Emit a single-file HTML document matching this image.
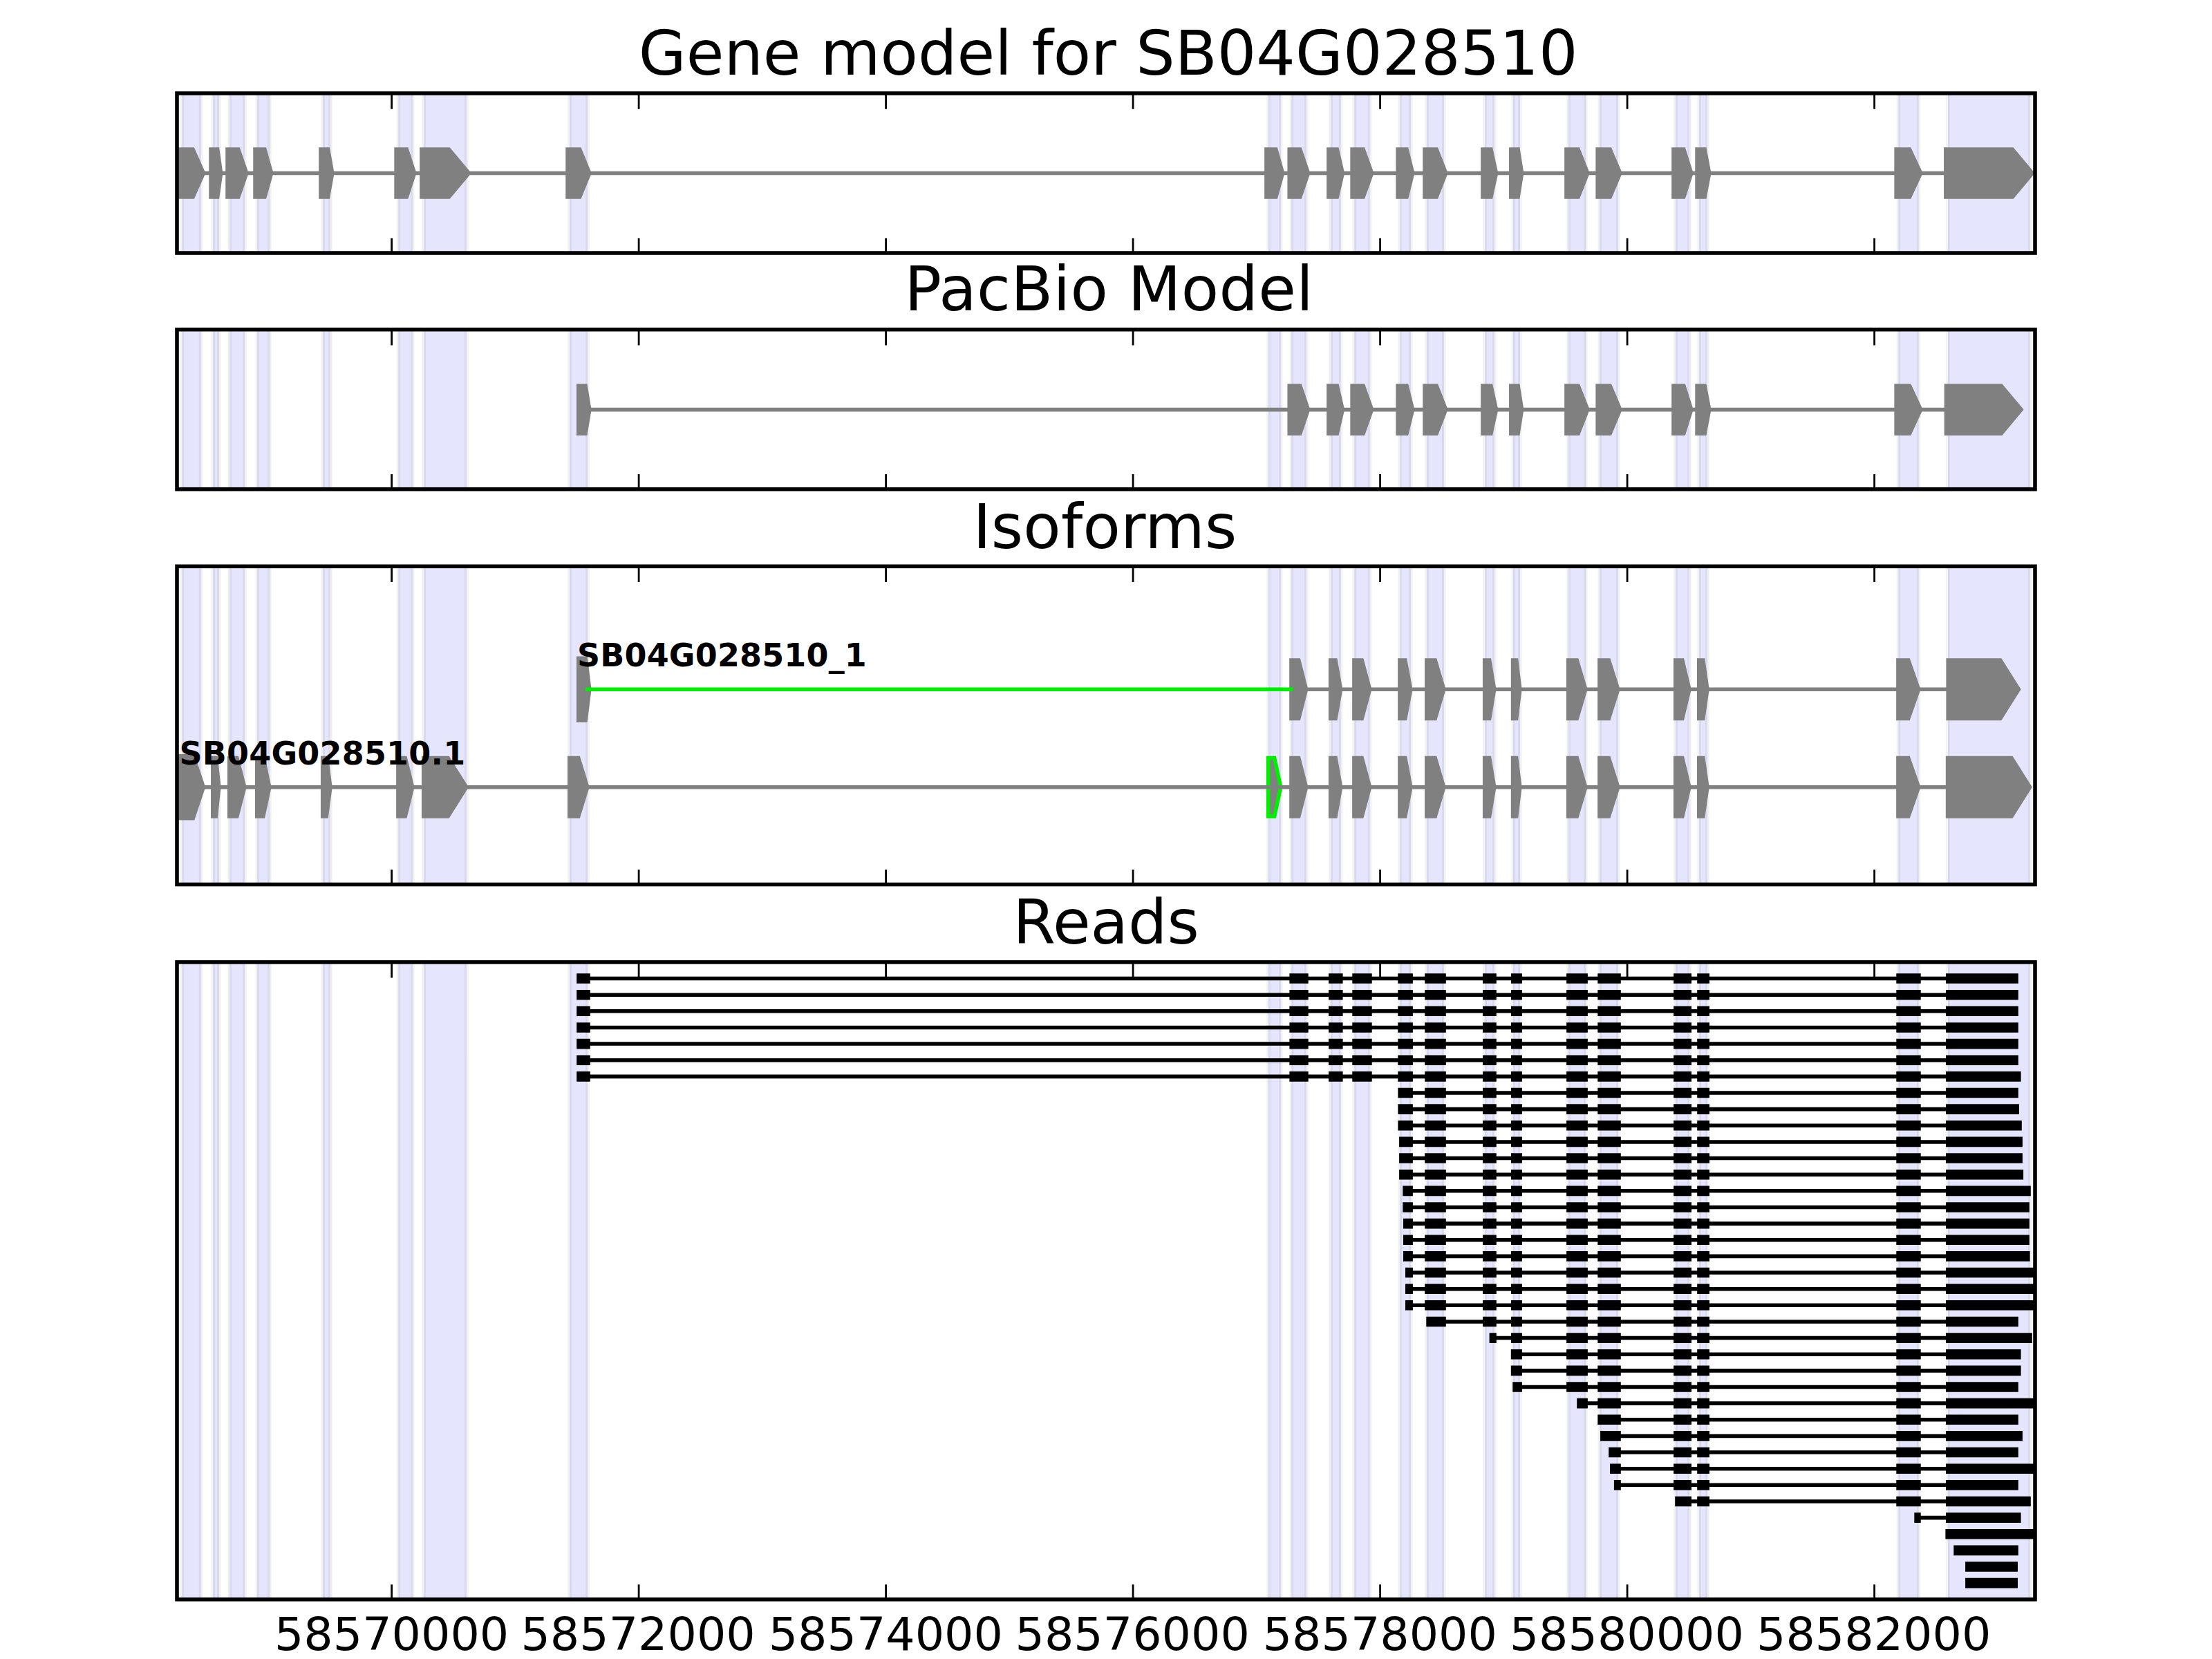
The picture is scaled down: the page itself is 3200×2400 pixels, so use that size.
<!DOCTYPE html>
<html lang="en">
<head>
<meta charset="utf-8">
<title>Gene model for SB04G028510</title>
<style>
html,body{margin:0;padding:0;background:#fff;}
body{width:3200px;height:2400px;overflow:hidden;}
svg{display:block;}
text{font-family:"DejaVu Sans","Liberation Sans",sans-serif;fill:#000;}
.ttl{font-size:88.9px;}
.tk{font-size:66.67px;}
.lbl{font-size:45.95px;font-weight:bold;}
</style>
</head>
<body>
<svg width="3200" height="2400" viewBox="0 0 3200 2400">
<rect width="3200" height="2400" fill="#fff"/>
<defs>
<clipPath id="c0"><rect x="256" y="135" width="2688" height="231"/></clipPath>
<clipPath id="c1"><rect x="256" y="476.7" width="2688" height="231"/></clipPath>
<clipPath id="c2"><rect x="256" y="819.3" width="2688" height="460.2"/></clipPath>
<clipPath id="c3"><rect x="256" y="1391.9" width="2688" height="921.9"/></clipPath>
</defs>
<g clip-path="url(#c0)">
<g>
<rect x="263.5" y="135" width="27.1" height="231" fill="#e5e5fd"/>
<rect x="308.2" y="135" width="8.7" height="231" fill="#e5e5fd"/>
<rect x="332.2" y="135" width="21.7" height="231" fill="#e5e5fd"/>
<rect x="372.2" y="135" width="17.7" height="231" fill="#e5e5fd"/>
<rect x="467.1" y="135" width="10.9" height="231" fill="#e5e5fd"/>
<rect x="576.3" y="135" width="20.5" height="231" fill="#e5e5fd"/>
<rect x="613.1" y="135" width="61.7" height="231" fill="#e5e5fd"/>
<rect x="824.2" y="135" width="25.7" height="231" fill="#e5e5fd"/>
<rect x="1835.1" y="135" width="17.7" height="231" fill="#e5e5fd"/>
<rect x="1868.4" y="135" width="21.3" height="231" fill="#e5e5fd"/>
<rect x="1925.1" y="135" width="14.5" height="231" fill="#e5e5fd"/>
<rect x="1959.3" y="135" width="22.4" height="231" fill="#e5e5fd"/>
<rect x="2025.3" y="135" width="15.6" height="231" fill="#e5e5fd"/>
<rect x="2064.2" y="135" width="24.6" height="231" fill="#e5e5fd"/>
<rect x="2148.1" y="135" width="13.7" height="231" fill="#e5e5fd"/>
<rect x="2189" y="135" width="9.9" height="231" fill="#e5e5fd"/>
<rect x="2269.1" y="135" width="24.8" height="231" fill="#e5e5fd"/>
<rect x="2314.3" y="135" width="26.6" height="231" fill="#e5e5fd"/>
<rect x="2424.1" y="135" width="19.9" height="231" fill="#e5e5fd"/>
<rect x="2458.2" y="135" width="11.8" height="231" fill="#e5e5fd"/>
<rect x="2746.3" y="135" width="29.4" height="231" fill="#e5e5fd"/>
<rect x="2818" y="135" width="118.7" height="231" fill="#e5e5fd"/>
<path d="M263.5 135V366M290.6 135V366M308.2 135V366M316.9 135V366M332.2 135V366M353.9 135V366M372.2 135V366M389.9 135V366M467.1 135V366M478 135V366M576.3 135V366M596.8 135V366M613.1 135V366M674.8 135V366M824.2 135V366M849.9 135V366M1835.1 135V366M1852.8 135V366M1868.4 135V366M1889.7 135V366M1925.1 135V366M1939.6 135V366M1959.3 135V366M1981.7 135V366M2025.3 135V366M2040.9 135V366M2064.2 135V366M2088.8 135V366M2148.1 135V366M2161.8 135V366M2189 135V366M2198.9 135V366M2269.1 135V366M2293.9 135V366M2314.3 135V366M2340.9 135V366M2424.1 135V366M2444 135V366M2458.2 135V366M2470 135V366M2746.3 135V366M2775.7 135V366M2818 135V366M2936.7 135V366" stroke="#000" stroke-opacity="0.055" stroke-width="5.56" fill="none"/>
</g>
<polygon points="263.1,218.7 277.25,218.7 291.4,250.5 277.25,282.3 263.1,282.3" fill="#808080" stroke="#808080" stroke-width="11.1" stroke-linejoin="miter" stroke-miterlimit="10"/>
<polygon points="307.8,218.7 312.3,218.7 316.8,250.5 312.3,282.3 307.8,282.3" fill="#808080" stroke="#808080" stroke-width="11.1" stroke-linejoin="miter" stroke-miterlimit="10"/>
<polygon points="331.8,218.7 342.8,218.7 353.8,250.5 342.8,282.3 331.8,282.3" fill="#808080" stroke="#808080" stroke-width="11.1" stroke-linejoin="miter" stroke-miterlimit="10"/>
<polygon points="371.8,218.7 380.8,218.7 389.8,250.5 380.8,282.3 371.8,282.3" fill="#808080" stroke="#808080" stroke-width="11.1" stroke-linejoin="miter" stroke-miterlimit="10"/>
<polygon points="466.7,218.7 472.3,218.7 477.9,250.5 472.3,282.3 466.7,282.3" fill="#808080" stroke="#808080" stroke-width="11.1" stroke-linejoin="miter" stroke-miterlimit="10"/>
<polygon points="575.9,218.7 586.3,218.7 596.7,250.5 586.3,282.3 575.9,282.3" fill="#808080" stroke="#808080" stroke-width="11.1" stroke-linejoin="miter" stroke-miterlimit="10"/>
<polygon points="612.7,218.7 648.1,218.7 674.7,250.5 648.1,282.3 612.7,282.3" fill="#808080" stroke="#808080" stroke-width="11.1" stroke-linejoin="miter" stroke-miterlimit="10"/>
<polygon points="823.8,218.7 836.8,218.7 849.8,250.5 836.8,282.3 823.8,282.3" fill="#808080" stroke="#808080" stroke-width="11.1" stroke-linejoin="miter" stroke-miterlimit="10"/>
<polygon points="1834.7,218.7 1843.7,218.7 1852.7,250.5 1843.7,282.3 1834.7,282.3" fill="#808080" stroke="#808080" stroke-width="11.1" stroke-linejoin="miter" stroke-miterlimit="10"/>
<polygon points="1868,218.7 1878.8,218.7 1889.6,250.5 1878.8,282.3 1868,282.3" fill="#808080" stroke="#808080" stroke-width="11.1" stroke-linejoin="miter" stroke-miterlimit="10"/>
<polygon points="1924.7,218.7 1932.1,218.7 1939.5,250.5 1932.1,282.3 1924.7,282.3" fill="#808080" stroke="#808080" stroke-width="11.1" stroke-linejoin="miter" stroke-miterlimit="10"/>
<polygon points="1958.9,218.7 1970.25,218.7 1981.6,250.5 1970.25,282.3 1958.9,282.3" fill="#808080" stroke="#808080" stroke-width="11.1" stroke-linejoin="miter" stroke-miterlimit="10"/>
<polygon points="2024.9,218.7 2032.85,218.7 2040.8,250.5 2032.85,282.3 2024.9,282.3" fill="#808080" stroke="#808080" stroke-width="11.1" stroke-linejoin="miter" stroke-miterlimit="10"/>
<polygon points="2063.8,218.7 2076.25,218.7 2088.7,250.5 2076.25,282.3 2063.8,282.3" fill="#808080" stroke="#808080" stroke-width="11.1" stroke-linejoin="miter" stroke-miterlimit="10"/>
<polygon points="2147.7,218.7 2154.7,218.7 2161.7,250.5 2154.7,282.3 2147.7,282.3" fill="#808080" stroke="#808080" stroke-width="11.1" stroke-linejoin="miter" stroke-miterlimit="10"/>
<polygon points="2188.6,218.7 2193.7,218.7 2198.8,250.5 2193.7,282.3 2188.6,282.3" fill="#808080" stroke="#808080" stroke-width="11.1" stroke-linejoin="miter" stroke-miterlimit="10"/>
<polygon points="2268.7,218.7 2281.25,218.7 2293.8,250.5 2281.25,282.3 2268.7,282.3" fill="#808080" stroke="#808080" stroke-width="11.1" stroke-linejoin="miter" stroke-miterlimit="10"/>
<polygon points="2313.9,218.7 2327.35,218.7 2340.8,250.5 2327.35,282.3 2313.9,282.3" fill="#808080" stroke="#808080" stroke-width="11.1" stroke-linejoin="miter" stroke-miterlimit="10"/>
<polygon points="2423.7,218.7 2433.8,218.7 2443.9,250.5 2433.8,282.3 2423.7,282.3" fill="#808080" stroke="#808080" stroke-width="11.1" stroke-linejoin="miter" stroke-miterlimit="10"/>
<polygon points="2457.8,218.7 2463.85,218.7 2469.9,250.5 2463.85,282.3 2457.8,282.3" fill="#808080" stroke="#808080" stroke-width="11.1" stroke-linejoin="miter" stroke-miterlimit="10"/>
<polygon points="2745.9,218.7 2760.75,218.7 2775.6,250.5 2760.75,282.3 2745.9,282.3" fill="#808080" stroke="#808080" stroke-width="11.1" stroke-linejoin="miter" stroke-miterlimit="10"/>
<polygon points="2817.6,218.7 2910,218.7 2936.6,250.5 2910,282.3 2817.6,282.3" fill="#808080" stroke="#808080" stroke-width="11.1" stroke-linejoin="miter" stroke-miterlimit="10"/>
<line x1="291.4" y1="250.5" x2="307.8" y2="250.5" stroke="#808080" stroke-width="5.56" stroke-linecap="square"/>
<line x1="316.8" y1="250.5" x2="331.8" y2="250.5" stroke="#808080" stroke-width="5.56" stroke-linecap="square"/>
<line x1="353.8" y1="250.5" x2="371.8" y2="250.5" stroke="#808080" stroke-width="5.56" stroke-linecap="square"/>
<line x1="389.8" y1="250.5" x2="466.7" y2="250.5" stroke="#808080" stroke-width="5.56" stroke-linecap="square"/>
<line x1="477.9" y1="250.5" x2="575.9" y2="250.5" stroke="#808080" stroke-width="5.56" stroke-linecap="square"/>
<line x1="596.7" y1="250.5" x2="612.7" y2="250.5" stroke="#808080" stroke-width="5.56" stroke-linecap="square"/>
<line x1="674.7" y1="250.5" x2="823.8" y2="250.5" stroke="#808080" stroke-width="5.56" stroke-linecap="square"/>
<line x1="849.8" y1="250.5" x2="1834.7" y2="250.5" stroke="#808080" stroke-width="5.56" stroke-linecap="square"/>
<line x1="1852.7" y1="250.5" x2="1868" y2="250.5" stroke="#808080" stroke-width="5.56" stroke-linecap="square"/>
<line x1="1889.6" y1="250.5" x2="1924.7" y2="250.5" stroke="#808080" stroke-width="5.56" stroke-linecap="square"/>
<line x1="1939.5" y1="250.5" x2="1958.9" y2="250.5" stroke="#808080" stroke-width="5.56" stroke-linecap="square"/>
<line x1="1981.6" y1="250.5" x2="2024.9" y2="250.5" stroke="#808080" stroke-width="5.56" stroke-linecap="square"/>
<line x1="2040.8" y1="250.5" x2="2063.8" y2="250.5" stroke="#808080" stroke-width="5.56" stroke-linecap="square"/>
<line x1="2088.7" y1="250.5" x2="2147.7" y2="250.5" stroke="#808080" stroke-width="5.56" stroke-linecap="square"/>
<line x1="2161.7" y1="250.5" x2="2188.6" y2="250.5" stroke="#808080" stroke-width="5.56" stroke-linecap="square"/>
<line x1="2198.8" y1="250.5" x2="2268.7" y2="250.5" stroke="#808080" stroke-width="5.56" stroke-linecap="square"/>
<line x1="2293.8" y1="250.5" x2="2313.9" y2="250.5" stroke="#808080" stroke-width="5.56" stroke-linecap="square"/>
<line x1="2340.8" y1="250.5" x2="2423.7" y2="250.5" stroke="#808080" stroke-width="5.56" stroke-linecap="square"/>
<line x1="2443.9" y1="250.5" x2="2457.8" y2="250.5" stroke="#808080" stroke-width="5.56" stroke-linecap="square"/>
<line x1="2469.9" y1="250.5" x2="2745.9" y2="250.5" stroke="#808080" stroke-width="5.56" stroke-linecap="square"/>
<line x1="2775.6" y1="250.5" x2="2817.6" y2="250.5" stroke="#808080" stroke-width="5.56" stroke-linecap="square"/>
</g>
<path d="M566.6 135v22.7M566.6 366v-21.6M924.1 135v22.7M924.1 366v-21.6M1281.6 135v22.7M1281.6 366v-21.6M1639.1 135v22.7M1639.1 366v-21.6M1996.6 135v22.7M1996.6 366v-21.6M2354.1 135v22.7M2354.1 366v-21.6M2711.6 135v22.7M2711.6 366v-21.6" stroke="#000" stroke-width="2.78" fill="none"/>
<rect x="256" y="135" width="2688" height="231" fill="none" stroke="#000" stroke-width="5.56" stroke-linejoin="miter"/>
<text class="ttl" x="923.75" y="108.2" textLength="1358.8" lengthAdjust="spacing">Gene model for SB04G028510</text>
<g clip-path="url(#c1)">
<g>
<rect x="263.5" y="476.7" width="27.1" height="231" fill="#e5e5fd"/>
<rect x="308.2" y="476.7" width="8.7" height="231" fill="#e5e5fd"/>
<rect x="332.2" y="476.7" width="21.7" height="231" fill="#e5e5fd"/>
<rect x="372.2" y="476.7" width="17.7" height="231" fill="#e5e5fd"/>
<rect x="467.1" y="476.7" width="10.9" height="231" fill="#e5e5fd"/>
<rect x="576.3" y="476.7" width="20.5" height="231" fill="#e5e5fd"/>
<rect x="613.1" y="476.7" width="61.7" height="231" fill="#e5e5fd"/>
<rect x="824.2" y="476.7" width="25.7" height="231" fill="#e5e5fd"/>
<rect x="1835.1" y="476.7" width="17.7" height="231" fill="#e5e5fd"/>
<rect x="1868.4" y="476.7" width="21.3" height="231" fill="#e5e5fd"/>
<rect x="1925.1" y="476.7" width="14.5" height="231" fill="#e5e5fd"/>
<rect x="1959.3" y="476.7" width="22.4" height="231" fill="#e5e5fd"/>
<rect x="2025.3" y="476.7" width="15.6" height="231" fill="#e5e5fd"/>
<rect x="2064.2" y="476.7" width="24.6" height="231" fill="#e5e5fd"/>
<rect x="2148.1" y="476.7" width="13.7" height="231" fill="#e5e5fd"/>
<rect x="2189" y="476.7" width="9.9" height="231" fill="#e5e5fd"/>
<rect x="2269.1" y="476.7" width="24.8" height="231" fill="#e5e5fd"/>
<rect x="2314.3" y="476.7" width="26.6" height="231" fill="#e5e5fd"/>
<rect x="2424.1" y="476.7" width="19.9" height="231" fill="#e5e5fd"/>
<rect x="2458.2" y="476.7" width="11.8" height="231" fill="#e5e5fd"/>
<rect x="2746.3" y="476.7" width="29.4" height="231" fill="#e5e5fd"/>
<rect x="2818" y="476.7" width="118.7" height="231" fill="#e5e5fd"/>
<path d="M263.5 476.7V707.7M290.6 476.7V707.7M308.2 476.7V707.7M316.9 476.7V707.7M332.2 476.7V707.7M353.9 476.7V707.7M372.2 476.7V707.7M389.9 476.7V707.7M467.1 476.7V707.7M478 476.7V707.7M576.3 476.7V707.7M596.8 476.7V707.7M613.1 476.7V707.7M674.8 476.7V707.7M824.2 476.7V707.7M849.9 476.7V707.7M1835.1 476.7V707.7M1852.8 476.7V707.7M1868.4 476.7V707.7M1889.7 476.7V707.7M1925.1 476.7V707.7M1939.6 476.7V707.7M1959.3 476.7V707.7M1981.7 476.7V707.7M2025.3 476.7V707.7M2040.9 476.7V707.7M2064.2 476.7V707.7M2088.8 476.7V707.7M2148.1 476.7V707.7M2161.8 476.7V707.7M2189 476.7V707.7M2198.9 476.7V707.7M2269.1 476.7V707.7M2293.9 476.7V707.7M2314.3 476.7V707.7M2340.9 476.7V707.7M2424.1 476.7V707.7M2444 476.7V707.7M2458.2 476.7V707.7M2470 476.7V707.7M2746.3 476.7V707.7M2775.7 476.7V707.7M2818 476.7V707.7M2936.7 476.7V707.7" stroke="#000" stroke-opacity="0.055" stroke-width="5.56" fill="none"/>
</g>
<polygon points="839.5,560.8 844.75,560.8 850,592.6 844.75,624.4 839.5,624.4" fill="#808080" stroke="#808080" stroke-width="11.1" stroke-linejoin="miter" stroke-miterlimit="10"/>
<polygon points="1868,560.8 1878.8,560.8 1889.6,592.6 1878.8,624.4 1868,624.4" fill="#808080" stroke="#808080" stroke-width="11.1" stroke-linejoin="miter" stroke-miterlimit="10"/>
<polygon points="1924.7,560.8 1932.1,560.8 1939.5,592.6 1932.1,624.4 1924.7,624.4" fill="#808080" stroke="#808080" stroke-width="11.1" stroke-linejoin="miter" stroke-miterlimit="10"/>
<polygon points="1958.9,560.8 1970.25,560.8 1981.6,592.6 1970.25,624.4 1958.9,624.4" fill="#808080" stroke="#808080" stroke-width="11.1" stroke-linejoin="miter" stroke-miterlimit="10"/>
<polygon points="2024.9,560.8 2032.85,560.8 2040.8,592.6 2032.85,624.4 2024.9,624.4" fill="#808080" stroke="#808080" stroke-width="11.1" stroke-linejoin="miter" stroke-miterlimit="10"/>
<polygon points="2063.8,560.8 2076.25,560.8 2088.7,592.6 2076.25,624.4 2063.8,624.4" fill="#808080" stroke="#808080" stroke-width="11.1" stroke-linejoin="miter" stroke-miterlimit="10"/>
<polygon points="2147.7,560.8 2154.7,560.8 2161.7,592.6 2154.7,624.4 2147.7,624.4" fill="#808080" stroke="#808080" stroke-width="11.1" stroke-linejoin="miter" stroke-miterlimit="10"/>
<polygon points="2188.6,560.8 2193.7,560.8 2198.8,592.6 2193.7,624.4 2188.6,624.4" fill="#808080" stroke="#808080" stroke-width="11.1" stroke-linejoin="miter" stroke-miterlimit="10"/>
<polygon points="2268.7,560.8 2281.25,560.8 2293.8,592.6 2281.25,624.4 2268.7,624.4" fill="#808080" stroke="#808080" stroke-width="11.1" stroke-linejoin="miter" stroke-miterlimit="10"/>
<polygon points="2313.9,560.8 2327.35,560.8 2340.8,592.6 2327.35,624.4 2313.9,624.4" fill="#808080" stroke="#808080" stroke-width="11.1" stroke-linejoin="miter" stroke-miterlimit="10"/>
<polygon points="2423.7,560.8 2433.8,560.8 2443.9,592.6 2433.8,624.4 2423.7,624.4" fill="#808080" stroke="#808080" stroke-width="11.1" stroke-linejoin="miter" stroke-miterlimit="10"/>
<polygon points="2457.8,560.8 2463.85,560.8 2469.9,592.6 2463.85,624.4 2457.8,624.4" fill="#808080" stroke="#808080" stroke-width="11.1" stroke-linejoin="miter" stroke-miterlimit="10"/>
<polygon points="2745.9,560.8 2760.75,560.8 2775.6,592.6 2760.75,624.4 2745.9,624.4" fill="#808080" stroke="#808080" stroke-width="11.1" stroke-linejoin="miter" stroke-miterlimit="10"/>
<polygon points="2818.2,560.8 2893.8,560.8 2920.4,592.6 2893.8,624.4 2818.2,624.4" fill="#808080" stroke="#808080" stroke-width="11.1" stroke-linejoin="miter" stroke-miterlimit="10"/>
<line x1="850" y1="592.6" x2="1868" y2="592.6" stroke="#808080" stroke-width="5.56" stroke-linecap="square"/>
<line x1="1889.6" y1="592.6" x2="1924.7" y2="592.6" stroke="#808080" stroke-width="5.56" stroke-linecap="square"/>
<line x1="1939.5" y1="592.6" x2="1958.9" y2="592.6" stroke="#808080" stroke-width="5.56" stroke-linecap="square"/>
<line x1="1981.6" y1="592.6" x2="2024.9" y2="592.6" stroke="#808080" stroke-width="5.56" stroke-linecap="square"/>
<line x1="2040.8" y1="592.6" x2="2063.8" y2="592.6" stroke="#808080" stroke-width="5.56" stroke-linecap="square"/>
<line x1="2088.7" y1="592.6" x2="2147.7" y2="592.6" stroke="#808080" stroke-width="5.56" stroke-linecap="square"/>
<line x1="2161.7" y1="592.6" x2="2188.6" y2="592.6" stroke="#808080" stroke-width="5.56" stroke-linecap="square"/>
<line x1="2198.8" y1="592.6" x2="2268.7" y2="592.6" stroke="#808080" stroke-width="5.56" stroke-linecap="square"/>
<line x1="2293.8" y1="592.6" x2="2313.9" y2="592.6" stroke="#808080" stroke-width="5.56" stroke-linecap="square"/>
<line x1="2340.8" y1="592.6" x2="2423.7" y2="592.6" stroke="#808080" stroke-width="5.56" stroke-linecap="square"/>
<line x1="2443.9" y1="592.6" x2="2457.8" y2="592.6" stroke="#808080" stroke-width="5.56" stroke-linecap="square"/>
<line x1="2469.9" y1="592.6" x2="2745.9" y2="592.6" stroke="#808080" stroke-width="5.56" stroke-linecap="square"/>
<line x1="2775.6" y1="592.6" x2="2818.2" y2="592.6" stroke="#808080" stroke-width="5.56" stroke-linecap="square"/>
</g>
<path d="M566.6 476.7v22.7M566.6 707.7v-21.6M924.1 476.7v22.7M924.1 707.7v-21.6M1281.6 476.7v22.7M1281.6 707.7v-21.6M1639.1 476.7v22.7M1639.1 707.7v-21.6M1996.6 476.7v22.7M1996.6 707.7v-21.6M2354.1 476.7v22.7M2354.1 707.7v-21.6M2711.6 476.7v22.7M2711.6 707.7v-21.6" stroke="#000" stroke-width="2.78" fill="none"/>
<rect x="256" y="476.7" width="2688" height="231" fill="none" stroke="#000" stroke-width="5.56" stroke-linejoin="miter"/>
<text class="ttl" x="1308.4" y="449.3" textLength="591.5" lengthAdjust="spacing">PacBio Model</text>
<g clip-path="url(#c2)">
<g>
<rect x="263.5" y="819.3" width="27.1" height="460.2" fill="#e5e5fd"/>
<rect x="308.2" y="819.3" width="8.7" height="460.2" fill="#e5e5fd"/>
<rect x="332.2" y="819.3" width="21.7" height="460.2" fill="#e5e5fd"/>
<rect x="372.2" y="819.3" width="17.7" height="460.2" fill="#e5e5fd"/>
<rect x="467.1" y="819.3" width="10.9" height="460.2" fill="#e5e5fd"/>
<rect x="576.3" y="819.3" width="20.5" height="460.2" fill="#e5e5fd"/>
<rect x="613.1" y="819.3" width="61.7" height="460.2" fill="#e5e5fd"/>
<rect x="824.2" y="819.3" width="25.7" height="460.2" fill="#e5e5fd"/>
<rect x="1835.1" y="819.3" width="17.7" height="460.2" fill="#e5e5fd"/>
<rect x="1868.4" y="819.3" width="21.3" height="460.2" fill="#e5e5fd"/>
<rect x="1925.1" y="819.3" width="14.5" height="460.2" fill="#e5e5fd"/>
<rect x="1959.3" y="819.3" width="22.4" height="460.2" fill="#e5e5fd"/>
<rect x="2025.3" y="819.3" width="15.6" height="460.2" fill="#e5e5fd"/>
<rect x="2064.2" y="819.3" width="24.6" height="460.2" fill="#e5e5fd"/>
<rect x="2148.1" y="819.3" width="13.7" height="460.2" fill="#e5e5fd"/>
<rect x="2189" y="819.3" width="9.9" height="460.2" fill="#e5e5fd"/>
<rect x="2269.1" y="819.3" width="24.8" height="460.2" fill="#e5e5fd"/>
<rect x="2314.3" y="819.3" width="26.6" height="460.2" fill="#e5e5fd"/>
<rect x="2424.1" y="819.3" width="19.9" height="460.2" fill="#e5e5fd"/>
<rect x="2458.2" y="819.3" width="11.8" height="460.2" fill="#e5e5fd"/>
<rect x="2746.3" y="819.3" width="29.4" height="460.2" fill="#e5e5fd"/>
<rect x="2818" y="819.3" width="118.7" height="460.2" fill="#e5e5fd"/>
<path d="M263.5 819.3V1279.5M290.6 819.3V1279.5M308.2 819.3V1279.5M316.9 819.3V1279.5M332.2 819.3V1279.5M353.9 819.3V1279.5M372.2 819.3V1279.5M389.9 819.3V1279.5M467.1 819.3V1279.5M478 819.3V1279.5M576.3 819.3V1279.5M596.8 819.3V1279.5M613.1 819.3V1279.5M674.8 819.3V1279.5M824.2 819.3V1279.5M849.9 819.3V1279.5M1835.1 819.3V1279.5M1852.8 819.3V1279.5M1868.4 819.3V1279.5M1889.7 819.3V1279.5M1925.1 819.3V1279.5M1939.6 819.3V1279.5M1959.3 819.3V1279.5M1981.7 819.3V1279.5M2025.3 819.3V1279.5M2040.9 819.3V1279.5M2064.2 819.3V1279.5M2088.8 819.3V1279.5M2148.1 819.3V1279.5M2161.8 819.3V1279.5M2189 819.3V1279.5M2198.9 819.3V1279.5M2269.1 819.3V1279.5M2293.9 819.3V1279.5M2314.3 819.3V1279.5M2340.9 819.3V1279.5M2424.1 819.3V1279.5M2444 819.3V1279.5M2458.2 819.3V1279.5M2470 819.3V1279.5M2746.3 819.3V1279.5M2775.7 819.3V1279.5M2818 819.3V1279.5M2936.7 819.3V1279.5" stroke="#000" stroke-opacity="0.055" stroke-width="5.56" fill="none"/>
</g>
<polygon points="839.5,955 844.75,955 850,997.2 844.75,1039.4 839.5,1039.4" fill="#808080" stroke="#808080" stroke-width="11.1" stroke-linejoin="miter" stroke-miterlimit="10"/>
<polygon points="1868,955 1878.8,955 1889.6,997.2 1878.8,1039.4 1868,1039.4" fill="#808080" stroke="#808080" stroke-width="5.56" stroke-linejoin="miter" stroke-miterlimit="10"/>
<polygon points="1924.7,955 1932.1,955 1939.5,997.2 1932.1,1039.4 1924.7,1039.4" fill="#808080" stroke="#808080" stroke-width="5.56" stroke-linejoin="miter" stroke-miterlimit="10"/>
<polygon points="1958.9,955 1970.25,955 1981.6,997.2 1970.25,1039.4 1958.9,1039.4" fill="#808080" stroke="#808080" stroke-width="5.56" stroke-linejoin="miter" stroke-miterlimit="10"/>
<polygon points="2024.9,955 2032.85,955 2040.8,997.2 2032.85,1039.4 2024.9,1039.4" fill="#808080" stroke="#808080" stroke-width="5.56" stroke-linejoin="miter" stroke-miterlimit="10"/>
<polygon points="2063.8,955 2076.25,955 2088.7,997.2 2076.25,1039.4 2063.8,1039.4" fill="#808080" stroke="#808080" stroke-width="5.56" stroke-linejoin="miter" stroke-miterlimit="10"/>
<polygon points="2147.7,955 2154.7,955 2161.7,997.2 2154.7,1039.4 2147.7,1039.4" fill="#808080" stroke="#808080" stroke-width="5.56" stroke-linejoin="miter" stroke-miterlimit="10"/>
<polygon points="2188.6,955 2193.7,955 2198.8,997.2 2193.7,1039.4 2188.6,1039.4" fill="#808080" stroke="#808080" stroke-width="5.56" stroke-linejoin="miter" stroke-miterlimit="10"/>
<polygon points="2268.7,955 2281.25,955 2293.8,997.2 2281.25,1039.4 2268.7,1039.4" fill="#808080" stroke="#808080" stroke-width="5.56" stroke-linejoin="miter" stroke-miterlimit="10"/>
<polygon points="2313.9,955 2327.35,955 2340.8,997.2 2327.35,1039.4 2313.9,1039.4" fill="#808080" stroke="#808080" stroke-width="5.56" stroke-linejoin="miter" stroke-miterlimit="10"/>
<polygon points="2423.7,955 2433.8,955 2443.9,997.2 2433.8,1039.4 2423.7,1039.4" fill="#808080" stroke="#808080" stroke-width="5.56" stroke-linejoin="miter" stroke-miterlimit="10"/>
<polygon points="2457.8,955 2463.85,955 2469.9,997.2 2463.85,1039.4 2457.8,1039.4" fill="#808080" stroke="#808080" stroke-width="5.56" stroke-linejoin="miter" stroke-miterlimit="10"/>
<polygon points="2745.9,955 2760.75,955 2775.6,997.2 2760.75,1039.4 2745.9,1039.4" fill="#808080" stroke="#808080" stroke-width="5.56" stroke-linejoin="miter" stroke-miterlimit="10"/>
<polygon points="2818.2,955 2893.8,955 2920.4,997.2 2893.8,1039.4 2818.2,1039.4" fill="#808080" stroke="#808080" stroke-width="5.56" stroke-linejoin="miter" stroke-miterlimit="10"/>
<line x1="850" y1="997.2" x2="1868" y2="997.2" stroke="#00ee00" stroke-width="5.56" stroke-linecap="square"/>
<line x1="1889.6" y1="997.2" x2="1924.7" y2="997.2" stroke="#808080" stroke-width="5.56" stroke-linecap="square"/>
<line x1="1939.5" y1="997.2" x2="1958.9" y2="997.2" stroke="#808080" stroke-width="5.56" stroke-linecap="square"/>
<line x1="1981.6" y1="997.2" x2="2024.9" y2="997.2" stroke="#808080" stroke-width="5.56" stroke-linecap="square"/>
<line x1="2040.8" y1="997.2" x2="2063.8" y2="997.2" stroke="#808080" stroke-width="5.56" stroke-linecap="square"/>
<line x1="2088.7" y1="997.2" x2="2147.7" y2="997.2" stroke="#808080" stroke-width="5.56" stroke-linecap="square"/>
<line x1="2161.7" y1="997.2" x2="2188.6" y2="997.2" stroke="#808080" stroke-width="5.56" stroke-linecap="square"/>
<line x1="2198.8" y1="997.2" x2="2268.7" y2="997.2" stroke="#808080" stroke-width="5.56" stroke-linecap="square"/>
<line x1="2293.8" y1="997.2" x2="2313.9" y2="997.2" stroke="#808080" stroke-width="5.56" stroke-linecap="square"/>
<line x1="2340.8" y1="997.2" x2="2423.7" y2="997.2" stroke="#808080" stroke-width="5.56" stroke-linecap="square"/>
<line x1="2443.9" y1="997.2" x2="2457.8" y2="997.2" stroke="#808080" stroke-width="5.56" stroke-linecap="square"/>
<line x1="2469.9" y1="997.2" x2="2745.9" y2="997.2" stroke="#808080" stroke-width="5.56" stroke-linecap="square"/>
<line x1="2775.6" y1="997.2" x2="2818.2" y2="997.2" stroke="#808080" stroke-width="5.56" stroke-linecap="square"/>
<polygon points="263.1,1096.6 277.25,1096.6 291.4,1138.8 277.25,1181 263.1,1181" fill="#808080" stroke="#808080" stroke-width="11.1" stroke-linejoin="miter" stroke-miterlimit="10"/>
<polygon points="307.8,1096.6 312.3,1096.6 316.8,1138.8 312.3,1181 307.8,1181" fill="#808080" stroke="#808080" stroke-width="5.56" stroke-linejoin="miter" stroke-miterlimit="10"/>
<polygon points="331.8,1096.6 342.8,1096.6 353.8,1138.8 342.8,1181 331.8,1181" fill="#808080" stroke="#808080" stroke-width="5.56" stroke-linejoin="miter" stroke-miterlimit="10"/>
<polygon points="371.8,1096.6 380.8,1096.6 389.8,1138.8 380.8,1181 371.8,1181" fill="#808080" stroke="#808080" stroke-width="5.56" stroke-linejoin="miter" stroke-miterlimit="10"/>
<polygon points="466.7,1096.6 472.3,1096.6 477.9,1138.8 472.3,1181 466.7,1181" fill="#808080" stroke="#808080" stroke-width="5.56" stroke-linejoin="miter" stroke-miterlimit="10"/>
<polygon points="575.9,1096.6 586.3,1096.6 596.7,1138.8 586.3,1181 575.9,1181" fill="#808080" stroke="#808080" stroke-width="5.56" stroke-linejoin="miter" stroke-miterlimit="10"/>
<polygon points="612.7,1096.6 648.1,1096.6 674.7,1138.8 648.1,1181 612.7,1181" fill="#808080" stroke="#808080" stroke-width="5.56" stroke-linejoin="miter" stroke-miterlimit="10"/>
<polygon points="823.8,1096.6 836.8,1096.6 849.8,1138.8 836.8,1181 823.8,1181" fill="#808080" stroke="#808080" stroke-width="5.56" stroke-linejoin="miter" stroke-miterlimit="10"/>
<polygon points="1834.7,1096.6 1843.7,1096.6 1852.7,1138.8 1843.7,1181 1834.7,1181" fill="#808080" stroke="#00ee00" stroke-width="5.56" stroke-linejoin="miter" stroke-miterlimit="10"/>
<polygon points="1868,1096.6 1878.8,1096.6 1889.6,1138.8 1878.8,1181 1868,1181" fill="#808080" stroke="#808080" stroke-width="5.56" stroke-linejoin="miter" stroke-miterlimit="10"/>
<polygon points="1924.7,1096.6 1932.1,1096.6 1939.5,1138.8 1932.1,1181 1924.7,1181" fill="#808080" stroke="#808080" stroke-width="5.56" stroke-linejoin="miter" stroke-miterlimit="10"/>
<polygon points="1958.9,1096.6 1970.25,1096.6 1981.6,1138.8 1970.25,1181 1958.9,1181" fill="#808080" stroke="#808080" stroke-width="5.56" stroke-linejoin="miter" stroke-miterlimit="10"/>
<polygon points="2024.9,1096.6 2032.85,1096.6 2040.8,1138.8 2032.85,1181 2024.9,1181" fill="#808080" stroke="#808080" stroke-width="5.56" stroke-linejoin="miter" stroke-miterlimit="10"/>
<polygon points="2063.8,1096.6 2076.25,1096.6 2088.7,1138.8 2076.25,1181 2063.8,1181" fill="#808080" stroke="#808080" stroke-width="5.56" stroke-linejoin="miter" stroke-miterlimit="10"/>
<polygon points="2147.7,1096.6 2154.7,1096.6 2161.7,1138.8 2154.7,1181 2147.7,1181" fill="#808080" stroke="#808080" stroke-width="5.56" stroke-linejoin="miter" stroke-miterlimit="10"/>
<polygon points="2188.6,1096.6 2193.7,1096.6 2198.8,1138.8 2193.7,1181 2188.6,1181" fill="#808080" stroke="#808080" stroke-width="5.56" stroke-linejoin="miter" stroke-miterlimit="10"/>
<polygon points="2268.7,1096.6 2281.25,1096.6 2293.8,1138.8 2281.25,1181 2268.7,1181" fill="#808080" stroke="#808080" stroke-width="5.56" stroke-linejoin="miter" stroke-miterlimit="10"/>
<polygon points="2313.9,1096.6 2327.35,1096.6 2340.8,1138.8 2327.35,1181 2313.9,1181" fill="#808080" stroke="#808080" stroke-width="5.56" stroke-linejoin="miter" stroke-miterlimit="10"/>
<polygon points="2423.7,1096.6 2433.8,1096.6 2443.9,1138.8 2433.8,1181 2423.7,1181" fill="#808080" stroke="#808080" stroke-width="5.56" stroke-linejoin="miter" stroke-miterlimit="10"/>
<polygon points="2457.8,1096.6 2463.85,1096.6 2469.9,1138.8 2463.85,1181 2457.8,1181" fill="#808080" stroke="#808080" stroke-width="5.56" stroke-linejoin="miter" stroke-miterlimit="10"/>
<polygon points="2745.9,1096.6 2760.75,1096.6 2775.6,1138.8 2760.75,1181 2745.9,1181" fill="#808080" stroke="#808080" stroke-width="5.56" stroke-linejoin="miter" stroke-miterlimit="10"/>
<polygon points="2817.6,1096.6 2910,1096.6 2936.6,1138.8 2910,1181 2817.6,1181" fill="#808080" stroke="#808080" stroke-width="5.56" stroke-linejoin="miter" stroke-miterlimit="10"/>
<line x1="291.4" y1="1138.8" x2="307.8" y2="1138.8" stroke="#808080" stroke-width="5.56" stroke-linecap="square"/>
<line x1="316.8" y1="1138.8" x2="331.8" y2="1138.8" stroke="#808080" stroke-width="5.56" stroke-linecap="square"/>
<line x1="353.8" y1="1138.8" x2="371.8" y2="1138.8" stroke="#808080" stroke-width="5.56" stroke-linecap="square"/>
<line x1="389.8" y1="1138.8" x2="466.7" y2="1138.8" stroke="#808080" stroke-width="5.56" stroke-linecap="square"/>
<line x1="477.9" y1="1138.8" x2="575.9" y2="1138.8" stroke="#808080" stroke-width="5.56" stroke-linecap="square"/>
<line x1="596.7" y1="1138.8" x2="612.7" y2="1138.8" stroke="#808080" stroke-width="5.56" stroke-linecap="square"/>
<line x1="674.7" y1="1138.8" x2="823.8" y2="1138.8" stroke="#808080" stroke-width="5.56" stroke-linecap="square"/>
<line x1="849.8" y1="1138.8" x2="1834.7" y2="1138.8" stroke="#808080" stroke-width="5.56" stroke-linecap="square"/>
<line x1="1852.7" y1="1138.8" x2="1868" y2="1138.8" stroke="#808080" stroke-width="5.56" stroke-linecap="square"/>
<line x1="1889.6" y1="1138.8" x2="1924.7" y2="1138.8" stroke="#808080" stroke-width="5.56" stroke-linecap="square"/>
<line x1="1939.5" y1="1138.8" x2="1958.9" y2="1138.8" stroke="#808080" stroke-width="5.56" stroke-linecap="square"/>
<line x1="1981.6" y1="1138.8" x2="2024.9" y2="1138.8" stroke="#808080" stroke-width="5.56" stroke-linecap="square"/>
<line x1="2040.8" y1="1138.8" x2="2063.8" y2="1138.8" stroke="#808080" stroke-width="5.56" stroke-linecap="square"/>
<line x1="2088.7" y1="1138.8" x2="2147.7" y2="1138.8" stroke="#808080" stroke-width="5.56" stroke-linecap="square"/>
<line x1="2161.7" y1="1138.8" x2="2188.6" y2="1138.8" stroke="#808080" stroke-width="5.56" stroke-linecap="square"/>
<line x1="2198.8" y1="1138.8" x2="2268.7" y2="1138.8" stroke="#808080" stroke-width="5.56" stroke-linecap="square"/>
<line x1="2293.8" y1="1138.8" x2="2313.9" y2="1138.8" stroke="#808080" stroke-width="5.56" stroke-linecap="square"/>
<line x1="2340.8" y1="1138.8" x2="2423.7" y2="1138.8" stroke="#808080" stroke-width="5.56" stroke-linecap="square"/>
<line x1="2443.9" y1="1138.8" x2="2457.8" y2="1138.8" stroke="#808080" stroke-width="5.56" stroke-linecap="square"/>
<line x1="2469.9" y1="1138.8" x2="2745.9" y2="1138.8" stroke="#808080" stroke-width="5.56" stroke-linecap="square"/>
<line x1="2775.6" y1="1138.8" x2="2817.6" y2="1138.8" stroke="#808080" stroke-width="5.56" stroke-linecap="square"/>
<text class="lbl" x="835.0" y="964.4" textLength="418.8" lengthAdjust="spacing">SB04G028510_1</text>
<text class="lbl" x="259.5" y="1105.8" textLength="413.6" lengthAdjust="spacing">SB04G028510.1</text>
</g>
<path d="M566.6 819.3v22.7M566.6 1279.5v-21.6M924.1 819.3v22.7M924.1 1279.5v-21.6M1281.6 819.3v22.7M1281.6 1279.5v-21.6M1639.1 819.3v22.7M1639.1 1279.5v-21.6M1996.6 819.3v22.7M1996.6 1279.5v-21.6M2354.1 819.3v22.7M2354.1 1279.5v-21.6M2711.6 819.3v22.7M2711.6 1279.5v-21.6" stroke="#000" stroke-width="2.78" fill="none"/>
<rect x="256" y="819.3" width="2688" height="460.2" fill="none" stroke="#000" stroke-width="5.56" stroke-linejoin="miter"/>
<text class="ttl" x="1407.4" y="792.5" textLength="381.9" lengthAdjust="spacing">Isoforms</text>
<g clip-path="url(#c3)">
<g>
<rect x="263.5" y="1391.9" width="27.1" height="921.9" fill="#e5e5fd"/>
<rect x="308.2" y="1391.9" width="8.7" height="921.9" fill="#e5e5fd"/>
<rect x="332.2" y="1391.9" width="21.7" height="921.9" fill="#e5e5fd"/>
<rect x="372.2" y="1391.9" width="17.7" height="921.9" fill="#e5e5fd"/>
<rect x="467.1" y="1391.9" width="10.9" height="921.9" fill="#e5e5fd"/>
<rect x="576.3" y="1391.9" width="20.5" height="921.9" fill="#e5e5fd"/>
<rect x="613.1" y="1391.9" width="61.7" height="921.9" fill="#e5e5fd"/>
<rect x="824.2" y="1391.9" width="25.7" height="921.9" fill="#e5e5fd"/>
<rect x="1835.1" y="1391.9" width="17.7" height="921.9" fill="#e5e5fd"/>
<rect x="1868.4" y="1391.9" width="21.3" height="921.9" fill="#e5e5fd"/>
<rect x="1925.1" y="1391.9" width="14.5" height="921.9" fill="#e5e5fd"/>
<rect x="1959.3" y="1391.9" width="22.4" height="921.9" fill="#e5e5fd"/>
<rect x="2025.3" y="1391.9" width="15.6" height="921.9" fill="#e5e5fd"/>
<rect x="2064.2" y="1391.9" width="24.6" height="921.9" fill="#e5e5fd"/>
<rect x="2148.1" y="1391.9" width="13.7" height="921.9" fill="#e5e5fd"/>
<rect x="2189" y="1391.9" width="9.9" height="921.9" fill="#e5e5fd"/>
<rect x="2269.1" y="1391.9" width="24.8" height="921.9" fill="#e5e5fd"/>
<rect x="2314.3" y="1391.9" width="26.6" height="921.9" fill="#e5e5fd"/>
<rect x="2424.1" y="1391.9" width="19.9" height="921.9" fill="#e5e5fd"/>
<rect x="2458.2" y="1391.9" width="11.8" height="921.9" fill="#e5e5fd"/>
<rect x="2746.3" y="1391.9" width="29.4" height="921.9" fill="#e5e5fd"/>
<rect x="2818" y="1391.9" width="118.7" height="921.9" fill="#e5e5fd"/>
<path d="M263.5 1391.9V2313.8M290.6 1391.9V2313.8M308.2 1391.9V2313.8M316.9 1391.9V2313.8M332.2 1391.9V2313.8M353.9 1391.9V2313.8M372.2 1391.9V2313.8M389.9 1391.9V2313.8M467.1 1391.9V2313.8M478 1391.9V2313.8M576.3 1391.9V2313.8M596.8 1391.9V2313.8M613.1 1391.9V2313.8M674.8 1391.9V2313.8M824.2 1391.9V2313.8M849.9 1391.9V2313.8M1835.1 1391.9V2313.8M1852.8 1391.9V2313.8M1868.4 1391.9V2313.8M1889.7 1391.9V2313.8M1925.1 1391.9V2313.8M1939.6 1391.9V2313.8M1959.3 1391.9V2313.8M1981.7 1391.9V2313.8M2025.3 1391.9V2313.8M2040.9 1391.9V2313.8M2064.2 1391.9V2313.8M2088.8 1391.9V2313.8M2148.1 1391.9V2313.8M2161.8 1391.9V2313.8M2189 1391.9V2313.8M2198.9 1391.9V2313.8M2269.1 1391.9V2313.8M2293.9 1391.9V2313.8M2314.3 1391.9V2313.8M2340.9 1391.9V2313.8M2424.1 1391.9V2313.8M2444 1391.9V2313.8M2458.2 1391.9V2313.8M2470 1391.9V2313.8M2746.3 1391.9V2313.8M2775.7 1391.9V2313.8M2818 1391.9V2313.8M2936.7 1391.9V2313.8" stroke="#000" stroke-opacity="0.055" stroke-width="5.56" fill="none"/>
</g>
<path d="M834.2 1408.24H853.8V1422.84H834.2ZM1865.4 1408.24H1892.7V1422.84H1865.4ZM1922.1 1408.24H1942.6V1422.84H1922.1ZM1956.3 1408.24H1984.7V1422.84H1956.3ZM2022.3 1408.24H2043.9V1422.84H2022.3ZM2061.2 1408.24H2091.8V1422.84H2061.2ZM2145.1 1408.24H2164.8V1422.84H2145.1ZM2186 1408.24H2201.9V1422.84H2186ZM2266.1 1408.24H2296.9V1422.84H2266.1ZM2311.3 1408.24H2344.8V1422.84H2311.3ZM2421.1 1408.24H2447V1422.84H2421.1ZM2455.2 1408.24H2473V1422.84H2455.2ZM2743.3 1408.24H2778.7V1422.84H2743.3ZM2815 1408.24H2919.8V1422.84H2815ZM834.2 1431.88H853.8V1446.48H834.2ZM1865.4 1431.88H1892.7V1446.48H1865.4ZM1922.1 1431.88H1942.6V1446.48H1922.1ZM1956.3 1431.88H1984.7V1446.48H1956.3ZM2022.3 1431.88H2043.9V1446.48H2022.3ZM2061.2 1431.88H2091.8V1446.48H2061.2ZM2145.1 1431.88H2164.8V1446.48H2145.1ZM2186 1431.88H2201.9V1446.48H2186ZM2266.1 1431.88H2296.9V1446.48H2266.1ZM2311.3 1431.88H2344.8V1446.48H2311.3ZM2421.1 1431.88H2447V1446.48H2421.1ZM2455.2 1431.88H2473V1446.48H2455.2ZM2743.3 1431.88H2778.7V1446.48H2743.3ZM2815 1431.88H2919.8V1446.48H2815ZM834.2 1455.52H853.8V1470.12H834.2ZM1865.4 1455.52H1892.7V1470.12H1865.4ZM1922.1 1455.52H1942.6V1470.12H1922.1ZM1956.3 1455.52H1984.7V1470.12H1956.3ZM2022.3 1455.52H2043.9V1470.12H2022.3ZM2061.2 1455.52H2091.8V1470.12H2061.2ZM2145.1 1455.52H2164.8V1470.12H2145.1ZM2186 1455.52H2201.9V1470.12H2186ZM2266.1 1455.52H2296.9V1470.12H2266.1ZM2311.3 1455.52H2344.8V1470.12H2311.3ZM2421.1 1455.52H2447V1470.12H2421.1ZM2455.2 1455.52H2473V1470.12H2455.2ZM2743.3 1455.52H2778.7V1470.12H2743.3ZM2815 1455.52H2919.8V1470.12H2815ZM834.2 1479.15H853.8V1493.75H834.2ZM1865.4 1479.15H1892.7V1493.75H1865.4ZM1922.1 1479.15H1942.6V1493.75H1922.1ZM1956.3 1479.15H1984.7V1493.75H1956.3ZM2022.3 1479.15H2043.9V1493.75H2022.3ZM2061.2 1479.15H2091.8V1493.75H2061.2ZM2145.1 1479.15H2164.8V1493.75H2145.1ZM2186 1479.15H2201.9V1493.75H2186ZM2266.1 1479.15H2296.9V1493.75H2266.1ZM2311.3 1479.15H2344.8V1493.75H2311.3ZM2421.1 1479.15H2447V1493.75H2421.1ZM2455.2 1479.15H2473V1493.75H2455.2ZM2743.3 1479.15H2778.7V1493.75H2743.3ZM2815 1479.15H2919.8V1493.75H2815ZM834.2 1502.79H853.8V1517.39H834.2ZM1865.4 1502.79H1892.7V1517.39H1865.4ZM1922.1 1502.79H1942.6V1517.39H1922.1ZM1956.3 1502.79H1984.7V1517.39H1956.3ZM2022.3 1502.79H2043.9V1517.39H2022.3ZM2061.2 1502.79H2091.8V1517.39H2061.2ZM2145.1 1502.79H2164.8V1517.39H2145.1ZM2186 1502.79H2201.9V1517.39H2186ZM2266.1 1502.79H2296.9V1517.39H2266.1ZM2311.3 1502.79H2344.8V1517.39H2311.3ZM2421.1 1502.79H2447V1517.39H2421.1ZM2455.2 1502.79H2473V1517.39H2455.2ZM2743.3 1502.79H2778.7V1517.39H2743.3ZM2815 1502.79H2919.8V1517.39H2815ZM834.2 1526.43H853.8V1541.03H834.2ZM1865.4 1526.43H1892.7V1541.03H1865.4ZM1922.1 1526.43H1942.6V1541.03H1922.1ZM1956.3 1526.43H1984.7V1541.03H1956.3ZM2022.3 1526.43H2043.9V1541.03H2022.3ZM2061.2 1526.43H2091.8V1541.03H2061.2ZM2145.1 1526.43H2164.8V1541.03H2145.1ZM2186 1526.43H2201.9V1541.03H2186ZM2266.1 1526.43H2296.9V1541.03H2266.1ZM2311.3 1526.43H2344.8V1541.03H2311.3ZM2421.1 1526.43H2447V1541.03H2421.1ZM2455.2 1526.43H2473V1541.03H2455.2ZM2743.3 1526.43H2778.7V1541.03H2743.3ZM2815 1526.43H2919.8V1541.03H2815ZM834.2 1550.07H853.8V1564.67H834.2ZM1865.4 1550.07H1892.7V1564.67H1865.4ZM1922.1 1550.07H1942.6V1564.67H1922.1ZM1956.3 1550.07H1984.7V1564.67H1956.3ZM2022.3 1550.07H2043.9V1564.67H2022.3ZM2061.2 1550.07H2091.8V1564.67H2061.2ZM2145.1 1550.07H2164.8V1564.67H2145.1ZM2186 1550.07H2201.9V1564.67H2186ZM2266.1 1550.07H2296.9V1564.67H2266.1ZM2311.3 1550.07H2344.8V1564.67H2311.3ZM2421.1 1550.07H2447V1564.67H2421.1ZM2455.2 1550.07H2473V1564.67H2455.2ZM2743.3 1550.07H2778.7V1564.67H2743.3ZM2815 1550.07H2923.6V1564.67H2815ZM2022.4 1573.71H2043.9V1588.31H2022.4ZM2061.2 1573.71H2091.8V1588.31H2061.2ZM2145.1 1573.71H2164.8V1588.31H2145.1ZM2186 1573.71H2201.9V1588.31H2186ZM2266.1 1573.71H2296.9V1588.31H2266.1ZM2311.3 1573.71H2344.8V1588.31H2311.3ZM2421.1 1573.71H2447V1588.31H2421.1ZM2455.2 1573.71H2473V1588.31H2455.2ZM2743.3 1573.71H2778.7V1588.31H2743.3ZM2815 1573.71H2919.8V1588.31H2815ZM2022.4 1597.35H2043.9V1611.95H2022.4ZM2061.2 1597.35H2091.8V1611.95H2061.2ZM2145.1 1597.35H2164.8V1611.95H2145.1ZM2186 1597.35H2201.9V1611.95H2186ZM2266.1 1597.35H2296.9V1611.95H2266.1ZM2311.3 1597.35H2344.8V1611.95H2311.3ZM2421.1 1597.35H2447V1611.95H2421.1ZM2455.2 1597.35H2473V1611.95H2455.2ZM2743.3 1597.35H2778.7V1611.95H2743.3ZM2815 1597.35H2921V1611.95H2815ZM2022.4 1620.98H2043.9V1635.58H2022.4ZM2061.2 1620.98H2091.8V1635.58H2061.2ZM2145.1 1620.98H2164.8V1635.58H2145.1ZM2186 1620.98H2201.9V1635.58H2186ZM2266.1 1620.98H2296.9V1635.58H2266.1ZM2311.3 1620.98H2344.8V1635.58H2311.3ZM2421.1 1620.98H2447V1635.58H2421.1ZM2455.2 1620.98H2473V1635.58H2455.2ZM2743.3 1620.98H2778.7V1635.58H2743.3ZM2815 1620.98H2924.8V1635.58H2815ZM2024.1 1644.62H2043.9V1659.22H2024.1ZM2061.2 1644.62H2091.8V1659.22H2061.2ZM2145.1 1644.62H2164.8V1659.22H2145.1ZM2186 1644.62H2201.9V1659.22H2186ZM2266.1 1644.62H2296.9V1659.22H2266.1ZM2311.3 1644.62H2344.8V1659.22H2311.3ZM2421.1 1644.62H2447V1659.22H2421.1ZM2455.2 1644.62H2473V1659.22H2455.2ZM2743.3 1644.62H2778.7V1659.22H2743.3ZM2815 1644.62H2925.9V1659.22H2815ZM2024.1 1668.26H2043.9V1682.86H2024.1ZM2061.2 1668.26H2091.8V1682.86H2061.2ZM2145.1 1668.26H2164.8V1682.86H2145.1ZM2186 1668.26H2201.9V1682.86H2186ZM2266.1 1668.26H2296.9V1682.86H2266.1ZM2311.3 1668.26H2344.8V1682.86H2311.3ZM2421.1 1668.26H2447V1682.86H2421.1ZM2455.2 1668.26H2473V1682.86H2455.2ZM2743.3 1668.26H2778.7V1682.86H2743.3ZM2815 1668.26H2925.9V1682.86H2815ZM2024.1 1691.9H2043.9V1706.5H2024.1ZM2061.2 1691.9H2091.8V1706.5H2061.2ZM2145.1 1691.9H2164.8V1706.5H2145.1ZM2186 1691.9H2201.9V1706.5H2186ZM2266.1 1691.9H2296.9V1706.5H2266.1ZM2311.3 1691.9H2344.8V1706.5H2311.3ZM2421.1 1691.9H2447V1706.5H2421.1ZM2455.2 1691.9H2473V1706.5H2455.2ZM2743.3 1691.9H2778.7V1706.5H2743.3ZM2815 1691.9H2927.1V1706.5H2815ZM2029.3 1715.54H2043.9V1730.14H2029.3ZM2061.2 1715.54H2091.8V1730.14H2061.2ZM2145.1 1715.54H2164.8V1730.14H2145.1ZM2186 1715.54H2201.9V1730.14H2186ZM2266.1 1715.54H2296.9V1730.14H2266.1ZM2311.3 1715.54H2344.8V1730.14H2311.3ZM2421.1 1715.54H2447V1730.14H2421.1ZM2455.2 1715.54H2473V1730.14H2455.2ZM2743.3 1715.54H2778.7V1730.14H2743.3ZM2815 1715.54H2937.8V1730.14H2815ZM2029.3 1739.18H2043.9V1753.78H2029.3ZM2061.2 1739.18H2091.8V1753.78H2061.2ZM2145.1 1739.18H2164.8V1753.78H2145.1ZM2186 1739.18H2201.9V1753.78H2186ZM2266.1 1739.18H2296.9V1753.78H2266.1ZM2311.3 1739.18H2344.8V1753.78H2311.3ZM2421.1 1739.18H2447V1753.78H2421.1ZM2455.2 1739.18H2473V1753.78H2455.2ZM2743.3 1739.18H2778.7V1753.78H2743.3ZM2815 1739.18H2935.8V1753.78H2815ZM2030 1762.82H2043.9V1777.42H2030ZM2061.2 1762.82H2091.8V1777.42H2061.2ZM2145.1 1762.82H2164.8V1777.42H2145.1ZM2186 1762.82H2201.9V1777.42H2186ZM2266.1 1762.82H2296.9V1777.42H2266.1ZM2311.3 1762.82H2344.8V1777.42H2311.3ZM2421.1 1762.82H2447V1777.42H2421.1ZM2455.2 1762.82H2473V1777.42H2455.2ZM2743.3 1762.82H2778.7V1777.42H2743.3ZM2815 1762.82H2935.8V1777.42H2815ZM2030 1786.45H2043.9V1801.05H2030ZM2061.2 1786.45H2091.8V1801.05H2061.2ZM2145.1 1786.45H2164.8V1801.05H2145.1ZM2186 1786.45H2201.9V1801.05H2186ZM2266.1 1786.45H2296.9V1801.05H2266.1ZM2311.3 1786.45H2344.8V1801.05H2311.3ZM2421.1 1786.45H2447V1801.05H2421.1ZM2455.2 1786.45H2473V1801.05H2455.2ZM2743.3 1786.45H2778.7V1801.05H2743.3ZM2815 1786.45H2935.8V1801.05H2815ZM2030 1810.09H2043.9V1824.69H2030ZM2061.2 1810.09H2091.8V1824.69H2061.2ZM2145.1 1810.09H2164.8V1824.69H2145.1ZM2186 1810.09H2201.9V1824.69H2186ZM2266.1 1810.09H2296.9V1824.69H2266.1ZM2311.3 1810.09H2344.8V1824.69H2311.3ZM2421.1 1810.09H2447V1824.69H2421.1ZM2455.2 1810.09H2473V1824.69H2455.2ZM2743.3 1810.09H2778.7V1824.69H2743.3ZM2815 1810.09H2936.6V1824.69H2815ZM2033 1833.73H2043.9V1848.33H2033ZM2061.2 1833.73H2091.8V1848.33H2061.2ZM2145.1 1833.73H2164.8V1848.33H2145.1ZM2186 1833.73H2201.9V1848.33H2186ZM2266.1 1833.73H2296.9V1848.33H2266.1ZM2311.3 1833.73H2344.8V1848.33H2311.3ZM2421.1 1833.73H2447V1848.33H2421.1ZM2455.2 1833.73H2473V1848.33H2455.2ZM2743.3 1833.73H2778.7V1848.33H2743.3ZM2815 1833.73H2960V1848.33H2815ZM2033 1857.37H2043.9V1871.97H2033ZM2061.2 1857.37H2091.8V1871.97H2061.2ZM2145.1 1857.37H2164.8V1871.97H2145.1ZM2186 1857.37H2201.9V1871.97H2186ZM2266.1 1857.37H2296.9V1871.97H2266.1ZM2311.3 1857.37H2344.8V1871.97H2311.3ZM2421.1 1857.37H2447V1871.97H2421.1ZM2455.2 1857.37H2473V1871.97H2455.2ZM2743.3 1857.37H2778.7V1871.97H2743.3ZM2815 1857.37H2960V1871.97H2815ZM2033 1881.01H2043.9V1895.61H2033ZM2061.2 1881.01H2091.8V1895.61H2061.2ZM2145.1 1881.01H2164.8V1895.61H2145.1ZM2186 1881.01H2201.9V1895.61H2186ZM2266.1 1881.01H2296.9V1895.61H2266.1ZM2311.3 1881.01H2344.8V1895.61H2311.3ZM2421.1 1881.01H2447V1895.61H2421.1ZM2455.2 1881.01H2473V1895.61H2455.2ZM2743.3 1881.01H2778.7V1895.61H2743.3ZM2815 1881.01H2960V1895.61H2815ZM2063.3 1904.65H2091.8V1919.25H2063.3ZM2145.1 1904.65H2164.8V1919.25H2145.1ZM2186 1904.65H2201.9V1919.25H2186ZM2266.1 1904.65H2296.9V1919.25H2266.1ZM2311.3 1904.65H2344.8V1919.25H2311.3ZM2421.1 1904.65H2447V1919.25H2421.1ZM2455.2 1904.65H2473V1919.25H2455.2ZM2743.3 1904.65H2778.7V1919.25H2743.3ZM2815 1904.65H2919.8V1919.25H2815ZM2154.6 1928.28H2164.8V1942.88H2154.6ZM2186 1928.28H2201.9V1942.88H2186ZM2266.1 1928.28H2296.9V1942.88H2266.1ZM2311.3 1928.28H2344.8V1942.88H2311.3ZM2421.1 1928.28H2447V1942.88H2421.1ZM2455.2 1928.28H2473V1942.88H2455.2ZM2743.3 1928.28H2778.7V1942.88H2743.3ZM2815 1928.28H2939.8V1942.88H2815ZM2185.8 1951.92H2201.9V1966.52H2185.8ZM2266.1 1951.92H2296.9V1966.52H2266.1ZM2311.3 1951.92H2344.8V1966.52H2311.3ZM2421.1 1951.92H2447V1966.52H2421.1ZM2455.2 1951.92H2473V1966.52H2455.2ZM2743.3 1951.92H2778.7V1966.52H2743.3ZM2815 1951.92H2923.6V1966.52H2815ZM2185.8 1975.56H2201.9V1990.16H2185.8ZM2266.1 1975.56H2296.9V1990.16H2266.1ZM2311.3 1975.56H2344.8V1990.16H2311.3ZM2421.1 1975.56H2447V1990.16H2421.1ZM2455.2 1975.56H2473V1990.16H2455.2ZM2743.3 1975.56H2778.7V1990.16H2743.3ZM2815 1975.56H2923.6V1990.16H2815ZM2188.3 1999.2H2201.9V2013.8H2188.3ZM2266.1 1999.2H2296.9V2013.8H2266.1ZM2311.3 1999.2H2344.8V2013.8H2311.3ZM2421.1 1999.2H2447V2013.8H2421.1ZM2455.2 1999.2H2473V2013.8H2455.2ZM2743.3 1999.2H2778.7V2013.8H2743.3ZM2815 1999.2H2919.8V2013.8H2815ZM2281.2 2022.84H2296.9V2037.44H2281.2ZM2311.3 2022.84H2344.8V2037.44H2311.3ZM2421.1 2022.84H2447V2037.44H2421.1ZM2455.2 2022.84H2473V2037.44H2455.2ZM2743.3 2022.84H2778.7V2037.44H2743.3ZM2815 2022.84H2960V2037.44H2815ZM2311.3 2046.48H2344.8V2061.08H2311.3ZM2421.1 2046.48H2447V2061.08H2421.1ZM2455.2 2046.48H2473V2061.08H2455.2ZM2743.3 2046.48H2778.7V2061.08H2743.3ZM2815 2046.48H2919.8V2061.08H2815ZM2315.1 2070.12H2344.8V2084.72H2315.1ZM2421.1 2070.12H2447V2084.72H2421.1ZM2455.2 2070.12H2473V2084.72H2455.2ZM2743.3 2070.12H2778.7V2084.72H2743.3ZM2815 2070.12H2925.9V2084.72H2815ZM2327.2 2093.75H2344.8V2108.35H2327.2ZM2421.1 2093.75H2447V2108.35H2421.1ZM2455.2 2093.75H2473V2108.35H2455.2ZM2743.3 2093.75H2778.7V2108.35H2743.3ZM2815 2093.75H2919.8V2108.35H2815ZM2329 2117.39H2344.8V2131.99H2329ZM2421.1 2117.39H2447V2131.99H2421.1ZM2455.2 2117.39H2473V2131.99H2455.2ZM2743.3 2117.39H2778.7V2131.99H2743.3ZM2815 2117.39H2960V2131.99H2815ZM2334.9 2141.03H2344.8V2155.63H2334.9ZM2421.1 2141.03H2447V2155.63H2421.1ZM2455.2 2141.03H2473V2155.63H2455.2ZM2743.3 2141.03H2778.7V2155.63H2743.3ZM2815 2141.03H2919.8V2155.63H2815ZM2423.2 2164.67H2447V2179.27H2423.2ZM2455.2 2164.67H2473V2179.27H2455.2ZM2743.3 2164.67H2778.7V2179.27H2743.3ZM2815 2164.67H2937.8V2179.27H2815ZM2769.3 2188.31H2778.7V2202.91H2769.3ZM2815 2188.31H2923.6V2202.91H2815ZM2814.4 2211.95H2960V2226.55H2814.4ZM2826.3 2235.58H2919.8V2250.18H2826.3ZM2843.1 2259.22H2919V2273.82H2843.1ZM2843.1 2282.86H2919V2297.46H2843.1Z" fill="#000"/>
<path d="M852.8 1415.54H2816M852.8 1439.18H2816M852.8 1462.82H2816M852.8 1486.45H2816M852.8 1510.09H2816M852.8 1533.73H2816M852.8 1557.37H2816M2042.9 1581.01H2816M2042.9 1604.65H2816M2042.9 1628.28H2816M2042.9 1651.92H2816M2042.9 1675.56H2816M2042.9 1699.2H2816M2042.9 1722.84H2816M2042.9 1746.48H2816M2042.9 1770.12H2816M2042.9 1793.75H2816M2042.9 1817.39H2816M2042.9 1841.03H2816M2042.9 1864.67H2816M2042.9 1888.31H2816M2090.8 1911.95H2816M2163.8 1935.58H2816M2200.9 1959.22H2816M2200.9 1982.86H2816M2200.9 2006.5H2816M2295.9 2030.14H2816M2343.8 2053.78H2816M2343.8 2077.42H2816M2343.8 2101.05H2816M2343.8 2124.69H2816M2343.8 2148.33H2816M2446 2171.97H2816M2777.7 2195.61H2816" stroke="#000" stroke-width="5.56" fill="none"/>
</g>
<path d="M566.6 1391.9v22.7M566.6 2313.8v-21.6M924.1 1391.9v22.7M924.1 2313.8v-21.6M1281.6 1391.9v22.7M1281.6 2313.8v-21.6M1639.1 1391.9v22.7M1639.1 2313.8v-21.6M1996.6 1391.9v22.7M1996.6 2313.8v-21.6M2354.1 1391.9v22.7M2354.1 2313.8v-21.6M2711.6 1391.9v22.7M2711.6 2313.8v-21.6" stroke="#000" stroke-width="2.78" fill="none"/>
<rect x="256" y="1391.9" width="2688" height="921.9" fill="none" stroke="#000" stroke-width="5.56" stroke-linejoin="miter"/>
<text class="ttl" x="1465.16" y="1365.1" textLength="269.67" lengthAdjust="spacing">Reads</text>
<text class="tk" x="566.6" y="2387.2" text-anchor="middle">58570000</text>
<text class="tk" x="923.1" y="2387.2" text-anchor="middle">58572000</text>
<text class="tk" x="1281.3" y="2387.2" text-anchor="middle">58574000</text>
<text class="tk" x="1638.2" y="2387.2" text-anchor="middle">58576000</text>
<text class="tk" x="1996.3" y="2387.2" text-anchor="middle">58578000</text>
<text class="tk" x="2353.3" y="2387.2" text-anchor="middle">58580000</text>
<text class="tk" x="2710.7" y="2387.2" text-anchor="middle">58582000</text>
</svg>
</body>
</html>
